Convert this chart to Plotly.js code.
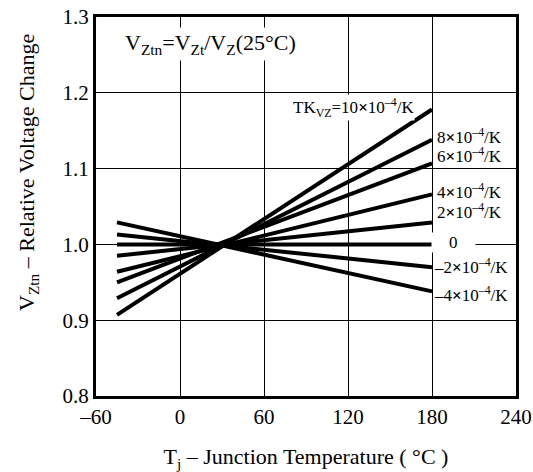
<!DOCTYPE html>
<html>
<head>
<meta charset="utf-8">
<script src="https://cdn.plot.ly/plotly-3.0.1.min.js"></script>
<style>html,body{margin:0;padding:0;background:#fff;}#chart{width:533px;height:472px;}</style>
</head>
<body>
<div id="chart"></div>
<script>
// Temperature coefficients (x10^-4/K) for each curve
const tkValues = [10, 8, 6, 4, 2, 0, -2, -4];
// Line start / end temperatures (°C)
const tempPoints = [-45, 180];
// Relative voltage at -45 °C and at 180 °C
const vStart = [0.907, 0.929, 0.950, 0.964, 0.985, 1.000, 1.013, 1.029];
const vEnd   = [1.178, 1.138, 1.107, 1.066, 1.029, 1.000, 0.970, 0.938];
// Curve labels and their anchor positions (data units)
const labelTexts = [
  "TK<sub>VZ</sub>=10<b>×</b>10<sup>–4</sup>/K",
  "8<b>×</b>10<sup>–4</sup>/K",
  "6<b>×</b>10<sup>–4</sup>/K",
  "4<b>×</b>10<sup>–4</sup>/K",
  "2<b>×</b>10<sup>–4</sup>/K",
  "&nbsp;&nbsp;&nbsp;&nbsp;0&nbsp;&nbsp;&nbsp;&nbsp;",
  "–2<b>×</b>10<sup>–4</sup>/K",
  "–4<b>×</b>10<sup>–4</sup>/K"
];
const labelX = [124, 183, 183, 183, 183, 195, 181, 181];
const labelY = [1.180, 1.143, 1.118, 1.071, 1.044, 1.002, 0.971, 0.934];
const labelAnchor = ["center", "left", "left", "left", "left", "center", "left", "left"];
const xTicks = [-60, 0, 60, 120, 180, 240];
const xTickText = ["–60", "0", "60", "120", "180", "240"];
const yTicks = [0.8, 0.9, 1.0, 1.1, 1.2, 1.3];

const serif = "Liberation Serif, Times New Roman, serif";

const traces = tkValues.map((tk, i) => ({
  type: "scatter",
  mode: "lines",
  x: tempPoints,
  y: [vStart[i], vEnd[i]],
  line: {color: "#000", width: 4},
  name: String(tk),
  hoverinfo: "skip",
  showlegend: false
}));

const annotations = labelTexts.map((t, i) => ({
  x: labelX[i], y: labelY[i], xref: "x", yref: "y",
  text: t, showarrow: false, xanchor: labelAnchor[i], yanchor: "middle",
  font: {family: serif, size: 17, color: "#000"},
  bgcolor: "#fff", borderpad: 0
}));
annotations.push({
  x: 22, y: 1.265, xref: "x", yref: "y",
  text: "V<sub>Ztn</sub>=V<sub>Zt</sub>/V<sub>Z</sub>(25°C)",
  showarrow: false, xanchor: "center", yanchor: "middle",
  font: {family: serif, size: 22, color: "#000"},
  bgcolor: "#fff", borderpad: 2
});
// y-axis title placed as rotated annotation
annotations.push({
  x: -0.162, y: 0.591, xref: "paper", yref: "paper",
  text: "V<sub>Ztn</sub> – Relative Voltage Change",
  textangle: -90, showarrow: false, xanchor: "center", yanchor: "middle",
  font: {family: serif, size: 22, color: "#000"}
});

const layout = {
  width: 533, height: 472,
  margin: {l: 96, r: 17, t: 17, b: 76},
  paper_bgcolor: "#fff", plot_bgcolor: "#fff",
  showlegend: false,
  font: {family: serif, color: "#000"},
  xaxis: {
    range: [-60, 240], tickvals: xTicks, ticktext: xTickText,
    showgrid: true, gridcolor: "#000", gridwidth: 1,
    zeroline: false, showline: true, mirror: true, linecolor: "#000", linewidth: 3,
    ticks: "", tickfont: {family: serif, size: 21, color: "#000"},
    title: {text: "T<sub>j</sub> – Junction Temperature ( °C )", font: {family: serif, size: 22, color: "#000"}, standoff: 24}
  },
  yaxis: {
    range: [0.8, 1.3], tickvals: yTicks, tickformat: ".1f",
    showgrid: true, gridcolor: "#000", gridwidth: 1,
    zeroline: false, showline: true, mirror: true, linecolor: "#000", linewidth: 3,
    ticks: "", tickfont: {family: serif, size: 21, color: "#000"}
  },
  annotations: annotations
};

Plotly.newPlot("chart", traces, layout, {displayModeBar: false, staticPlot: true});
</script>
</body>
</html>
